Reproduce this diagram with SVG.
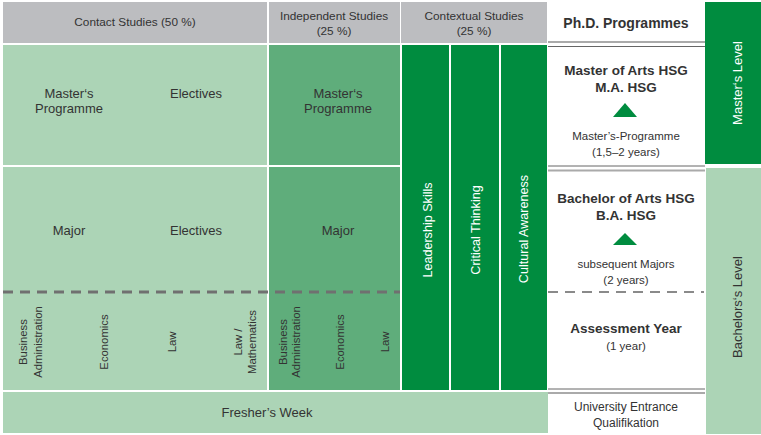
<svg xmlns="http://www.w3.org/2000/svg" width="761" height="435" viewBox="0 0 761 435">
<style>
text{font-family:"Liberation Sans",Arial,sans-serif;fill:#333;text-anchor:middle}
.hd{font-size:11.8px}
.md{font-size:13px}
.sm{font-size:11.3px}
.b{font-weight:bold}
.w{fill:#fff}
.grey{fill:#bcbdc0}
.lg{fill:#acd4b6}
.mg{fill:#5fad7b}
.dg{fill:#008c3f}
</style>
<rect width="761" height="435" fill="#fff"/>
<!-- headers -->
<g id="hdr-contact"><rect class="grey" x="3" y="2" width="264" height="41"/><text class="hd" x="135" y="26">Contact Studies (50 %)</text></g>
<g id="hdr-independent"><rect class="grey" x="269" y="2" width="131" height="41"/><text class="hd" x="334" y="20">Independent Studies</text><text class="hd" x="334" y="35">(25 %)</text></g>
<g id="hdr-contextual"><rect class="grey" x="401" y="2" width="146" height="41"/><text class="hd" x="474" y="20">Contextual Studies</text><text class="hd" x="474" y="35">(25 %)</text></g>
<g id="phd"><text class="b" style="font-size:14px" x="626" y="28">Ph.D. Programmes</text></g>
<!-- master row -->
<g id="contact-master"><rect class="lg" x="3" y="45" width="264" height="120"/><text class="md" x="69" y="98">Master‘s</text><text class="md" x="69" y="113">Programme</text><text class="md" x="196" y="98">Electives</text></g>
<g id="indep-master"><rect class="mg" x="269" y="45" width="131" height="120"/><text class="md" x="338" y="98">Master‘s</text><text class="md" x="338" y="113">Programme</text></g>
<!-- bachelor row -->
<g id="contact-bachelor"><rect class="lg" x="3" y="167" width="264" height="223"/><text class="md" x="69" y="235">Major</text><text class="md" x="196" y="235">Electives</text>
<text transform="translate(23,342) rotate(-90)" y="4" class="sm">Business</text><text transform="translate(38,342) rotate(-90)" y="4" class="sm">Administration</text><text transform="translate(104,342) rotate(-90)" y="4" class="sm">Economics</text><text transform="translate(172,342) rotate(-90)" y="4" class="sm">Law</text><text transform="translate(238,342) rotate(-90)" y="4" class="sm">Law /</text><text transform="translate(252,342) rotate(-90)" y="4" class="sm">Mathematics</text></g>
<g id="indep-bachelor"><rect class="mg" x="269" y="167" width="131" height="223"/><text class="md" x="338" y="235">Major</text><text transform="translate(283,342) rotate(-90)" y="4" class="sm">Business</text><text transform="translate(296,342) rotate(-90)" y="4" class="sm">Administration</text><text transform="translate(340,342) rotate(-90)" y="4" class="sm">Economics</text><text transform="translate(385,342) rotate(-90)" y="4" class="sm">Law</text></g>
<!-- dashed lines -->
<g id="connectors">
<line x1="3" y1="292" x2="400" y2="292" stroke="#707070" stroke-width="3" stroke-dasharray="10 7"/>
<line x1="548" y1="292" x2="704" y2="292" stroke="#8a8a8a" stroke-width="2" stroke-dasharray="10 7"/>
<line x1="548" y1="42" x2="705" y2="42" stroke="#aaa" stroke-width="2"/>
<line x1="548" y1="46.5" x2="705" y2="46.5" stroke="#666" stroke-width="1"/>
<line x1="548" y1="166" x2="705" y2="166" stroke="#666" stroke-width="1"/>
<line x1="548" y1="170.5" x2="705" y2="170.5" stroke="#aaa" stroke-width="2"/>
<line x1="548" y1="389" x2="705" y2="389" stroke="#666" stroke-width="1"/>
<line x1="548" y1="393" x2="705" y2="393" stroke="#aaa" stroke-width="2"/>
</g>
<!-- contextual columns -->
<g id="leadership"><rect class="dg" x="402" y="45" width="47" height="345"/><text class="w" style="font-size:12.6px" transform="translate(427,230) rotate(-90)" y="4.5">Leadership Skills</text></g>
<g id="critical"><rect class="dg" x="451" y="45" width="48" height="345"/><text class="w" style="font-size:12.6px" transform="translate(475,230) rotate(-90)" y="4.5">Critical Thinking</text></g>
<g id="cultural"><rect class="dg" x="501" y="45" width="46" height="345"/><text class="w" style="font-size:12.6px" transform="translate(523,229) rotate(-90)" y="4.5">Cultural Awareness</text></g>
<!-- fresher -->
<g id="fresher"><rect class="lg" x="3" y="392" width="545" height="41"/><text class="md" x="267" y="417">Fresher’s Week</text></g>
<!-- right column -->
<g id="ma"><text class="b" style="font-size:13.5px" x="626" y="75">Master of Arts HSG</text><text class="b" style="font-size:13.5px" x="626" y="92">M.A. HSG</text><polygon class="dg" points="613,117 625,103 637,117"/><text style="font-size:11.5px" x="626" y="140">Master’s-Programme</text><text style="font-size:11.5px" x="626" y="156">(1,5–2 years)</text></g>
<g id="ba"><text class="b" style="font-size:13.5px" x="626" y="203">Bachelor of Arts HSG</text><text class="b" style="font-size:13.5px" x="626" y="220">B.A. HSG</text><polygon class="dg" points="613,245 625,233 637,245"/><text style="font-size:11.5px" x="626" y="268">subsequent Majors</text><text style="font-size:11.5px" x="626" y="284">(2 years)</text></g>
<g id="assessment"><text class="b" style="font-size:13.5px" x="626" y="333">Assessment Year</text><text style="font-size:11.5px" x="626" y="350">(1 year)</text></g>
<g id="entrance"><text style="font-size:12px" x="626" y="411">University Entrance</text><text style="font-size:12px" x="626" y="427">Qualifikation</text></g>
<!-- levels -->
<g id="master-level"><rect class="dg" x="705" y="2" width="56" height="162"/><text class="w md" transform="translate(737,83) rotate(-90)" y="4.5">Master‘s Level</text></g>
<g id="bachelor-level"><rect class="lg" x="706" y="168" width="55" height="266"/><text class="md" transform="translate(737,307) rotate(-90)" y="4.5">Bachelors‘s Level</text></g>
</svg>
